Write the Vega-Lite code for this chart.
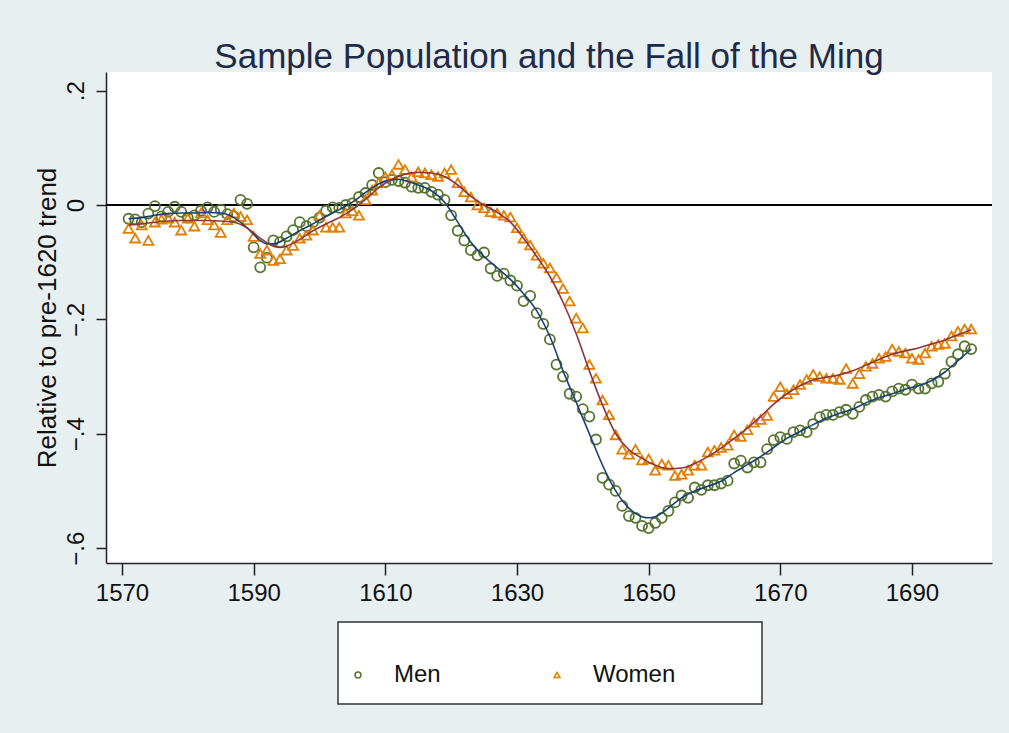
{
"$schema": "https://vega.github.io/schema/vega-lite/v6.json",
"width": 886, "height": 491,
"autosize": "none",
"padding": {"left": 106, "top": 72, "right": 17, "bottom": 170},
"background": "#e8eff1",
"title": {"text": "Sample Population and the Fall of the Ming", "fontSize": 35, "font": "Liberation Sans", "fontWeight": "normal", "color": "#1f2a48", "anchor": "middle", "baseline": "alphabetic", "offset": -31},
"config": {
 "view": {"stroke": null, "fill": "white"},
 "axis": {"labelFont": "Liberation Sans", "titleFont": "Liberation Sans", "labelColor": "#111", "titleColor": "#111", "domainColor": "#222", "tickColor": "#222", "domainWidth": 1.5, "tickWidth": 1.5, "grid": false},
 "legend": {"orient": "none", "legendX": 232, "legendY": 550, "direction": "horizontal", "padding": 17, "strokeColor": "#333", "fillColor": "white", "strokeWidth": 1.5, "symbolSize": 35, "symbolStrokeWidth": 1.5, "symbolOffset": -9, "labelFont": "Liberation Sans", "labelFontSize": 24, "labelColor": "#111", "labelOffset": 24, "columnPadding": 110, "titleFont": "Liberation Sans", "titleFontSize": 14, "titleFontWeight": "normal", "titleColor": "#ffffff", "titlePadding": 10, "titleLimit": 2000, "labelLimit": 400}
},
"datasets": {
"pts": [
{"year":1571,"sex":"Men","v":-0.024},{"year":1572,"sex":"Men","v":-0.025},{"year":1573,"sex":"Men","v":-0.030},{"year":1574,"sex":"Men","v":-0.015},{"year":1575,"sex":"Men","v":-0.002},{"year":1576,"sex":"Men","v":-0.020},{"year":1577,"sex":"Men","v":-0.012},{"year":1578,"sex":"Men","v":-0.003},{"year":1579,"sex":"Men","v":-0.012},{"year":1580,"sex":"Men","v":-0.022},
{"year":1581,"sex":"Men","v":-0.018},{"year":1582,"sex":"Men","v":-0.010},{"year":1583,"sex":"Men","v":-0.004},{"year":1584,"sex":"Men","v":-0.012},{"year":1585,"sex":"Men","v":-0.008},{"year":1586,"sex":"Men","v":-0.016},{"year":1587,"sex":"Men","v":-0.020},{"year":1588,"sex":"Men","v":0.009},{"year":1589,"sex":"Men","v":0.002},{"year":1590,"sex":"Men","v":-0.074},
{"year":1591,"sex":"Men","v":-0.109},{"year":1592,"sex":"Men","v":-0.092},{"year":1593,"sex":"Men","v":-0.062},{"year":1594,"sex":"Men","v":-0.065},{"year":1595,"sex":"Men","v":-0.055},{"year":1596,"sex":"Men","v":-0.044},{"year":1597,"sex":"Men","v":-0.030},{"year":1598,"sex":"Men","v":-0.037},{"year":1599,"sex":"Men","v":-0.030},{"year":1600,"sex":"Men","v":-0.022},
{"year":1601,"sex":"Men","v":-0.010},{"year":1602,"sex":"Men","v":-0.004},{"year":1603,"sex":"Men","v":-0.005},{"year":1604,"sex":"Men","v":0.000},{"year":1605,"sex":"Men","v":0.003},{"year":1606,"sex":"Men","v":0.014},{"year":1607,"sex":"Men","v":0.021},{"year":1608,"sex":"Men","v":0.035},{"year":1609,"sex":"Men","v":0.056},{"year":1610,"sex":"Men","v":0.040},
{"year":1611,"sex":"Men","v":0.044},{"year":1612,"sex":"Men","v":0.042},{"year":1613,"sex":"Men","v":0.039},{"year":1614,"sex":"Men","v":0.032},{"year":1615,"sex":"Men","v":0.030},{"year":1616,"sex":"Men","v":0.030},{"year":1617,"sex":"Men","v":0.023},{"year":1618,"sex":"Men","v":0.018},{"year":1619,"sex":"Men","v":0.009},{"year":1620,"sex":"Men","v":-0.018},
{"year":1621,"sex":"Men","v":-0.045},{"year":1622,"sex":"Men","v":-0.062},{"year":1623,"sex":"Men","v":-0.079},{"year":1624,"sex":"Men","v":-0.088},{"year":1625,"sex":"Men","v":-0.083},{"year":1626,"sex":"Men","v":-0.111},{"year":1627,"sex":"Men","v":-0.124},{"year":1628,"sex":"Men","v":-0.120},{"year":1629,"sex":"Men","v":-0.132},{"year":1630,"sex":"Men","v":-0.141},
{"year":1631,"sex":"Men","v":-0.168},{"year":1632,"sex":"Men","v":-0.159},{"year":1633,"sex":"Men","v":-0.189},{"year":1634,"sex":"Men","v":-0.208},{"year":1635,"sex":"Men","v":-0.235},{"year":1636,"sex":"Men","v":-0.279},{"year":1637,"sex":"Men","v":-0.300},{"year":1638,"sex":"Men","v":-0.330},{"year":1639,"sex":"Men","v":-0.335},{"year":1640,"sex":"Men","v":-0.357},
{"year":1641,"sex":"Men","v":-0.370},{"year":1642,"sex":"Men","v":-0.410},{"year":1643,"sex":"Men","v":-0.477},{"year":1644,"sex":"Men","v":-0.489},{"year":1645,"sex":"Men","v":-0.500},{"year":1646,"sex":"Men","v":-0.526},{"year":1647,"sex":"Men","v":-0.544},{"year":1648,"sex":"Men","v":-0.547},{"year":1649,"sex":"Men","v":-0.561},{"year":1650,"sex":"Men","v":-0.565},
{"year":1651,"sex":"Men","v":-0.556},{"year":1652,"sex":"Men","v":-0.547},{"year":1653,"sex":"Men","v":-0.535},{"year":1654,"sex":"Men","v":-0.520},{"year":1655,"sex":"Men","v":-0.508},{"year":1656,"sex":"Men","v":-0.512},{"year":1657,"sex":"Men","v":-0.494},{"year":1658,"sex":"Men","v":-0.498},{"year":1659,"sex":"Men","v":-0.490},{"year":1660,"sex":"Men","v":-0.490},
{"year":1661,"sex":"Men","v":-0.487},{"year":1662,"sex":"Men","v":-0.482},{"year":1663,"sex":"Men","v":-0.452},{"year":1664,"sex":"Men","v":-0.447},{"year":1665,"sex":"Men","v":-0.459},{"year":1666,"sex":"Men","v":-0.450},{"year":1667,"sex":"Men","v":-0.450},{"year":1668,"sex":"Men","v":-0.427},{"year":1669,"sex":"Men","v":-0.411},{"year":1670,"sex":"Men","v":-0.406},
{"year":1671,"sex":"Men","v":-0.409},{"year":1672,"sex":"Men","v":-0.397},{"year":1673,"sex":"Men","v":-0.394},{"year":1674,"sex":"Men","v":-0.397},{"year":1675,"sex":"Men","v":-0.383},{"year":1676,"sex":"Men","v":-0.371},{"year":1677,"sex":"Men","v":-0.367},{"year":1678,"sex":"Men","v":-0.367},{"year":1679,"sex":"Men","v":-0.362},{"year":1680,"sex":"Men","v":-0.358},
{"year":1681,"sex":"Men","v":-0.365},{"year":1682,"sex":"Men","v":-0.353},{"year":1683,"sex":"Men","v":-0.341},{"year":1684,"sex":"Men","v":-0.335},{"year":1685,"sex":"Men","v":-0.332},{"year":1686,"sex":"Men","v":-0.335},{"year":1687,"sex":"Men","v":-0.326},{"year":1688,"sex":"Men","v":-0.321},{"year":1689,"sex":"Men","v":-0.323},{"year":1690,"sex":"Men","v":-0.314},
{"year":1691,"sex":"Men","v":-0.321},{"year":1692,"sex":"Men","v":-0.321},{"year":1693,"sex":"Men","v":-0.312},{"year":1694,"sex":"Men","v":-0.309},{"year":1695,"sex":"Men","v":-0.295},{"year":1696,"sex":"Men","v":-0.274},{"year":1697,"sex":"Men","v":-0.261},{"year":1698,"sex":"Men","v":-0.247},{"year":1699,"sex":"Men","v":-0.252},
{"year":1571,"sex":"Women","v":-0.041},{"year":1572,"sex":"Women","v":-0.058},{"year":1573,"sex":"Women","v":-0.035},{"year":1574,"sex":"Women","v":-0.062},{"year":1575,"sex":"Women","v":-0.030},{"year":1576,"sex":"Women","v":-0.025},{"year":1577,"sex":"Women","v":-0.023},{"year":1578,"sex":"Women","v":-0.030},{"year":1579,"sex":"Women","v":-0.044},{"year":1580,"sex":"Women","v":-0.023},
{"year":1581,"sex":"Women","v":-0.037},{"year":1582,"sex":"Women","v":-0.014},{"year":1583,"sex":"Women","v":-0.026},{"year":1584,"sex":"Women","v":-0.035},{"year":1585,"sex":"Women","v":-0.048},{"year":1586,"sex":"Women","v":-0.026},{"year":1587,"sex":"Women","v":-0.014},{"year":1588,"sex":"Women","v":-0.020},{"year":1589,"sex":"Women","v":-0.026},{"year":1590,"sex":"Women","v":-0.055},
{"year":1591,"sex":"Women","v":-0.085},{"year":1592,"sex":"Women","v":-0.079},{"year":1593,"sex":"Women","v":-0.097},{"year":1594,"sex":"Women","v":-0.094},{"year":1595,"sex":"Women","v":-0.079},{"year":1596,"sex":"Women","v":-0.071},{"year":1597,"sex":"Women","v":-0.058},{"year":1598,"sex":"Women","v":-0.053},{"year":1599,"sex":"Women","v":-0.044},{"year":1600,"sex":"Women","v":-0.018},
{"year":1601,"sex":"Women","v":-0.039},{"year":1602,"sex":"Women","v":-0.039},{"year":1603,"sex":"Women","v":-0.039},{"year":1604,"sex":"Women","v":-0.014},{"year":1605,"sex":"Women","v":-0.010},{"year":1606,"sex":"Women","v":-0.018},{"year":1607,"sex":"Women","v":0.009},{"year":1608,"sex":"Women","v":0.026},{"year":1609,"sex":"Women","v":0.039},{"year":1610,"sex":"Women","v":0.049},
{"year":1611,"sex":"Women","v":0.053},{"year":1612,"sex":"Women","v":0.071},{"year":1613,"sex":"Women","v":0.062},{"year":1614,"sex":"Women","v":0.049},{"year":1615,"sex":"Women","v":0.058},{"year":1616,"sex":"Women","v":0.056},{"year":1617,"sex":"Women","v":0.053},{"year":1618,"sex":"Women","v":0.050},{"year":1619,"sex":"Women","v":0.056},{"year":1620,"sex":"Women","v":0.062},
{"year":1621,"sex":"Women","v":0.039},{"year":1622,"sex":"Women","v":0.023},{"year":1623,"sex":"Women","v":0.014},{"year":1624,"sex":"Women","v":0.000},{"year":1625,"sex":"Women","v":-0.005},{"year":1626,"sex":"Women","v":-0.012},{"year":1627,"sex":"Women","v":-0.014},{"year":1628,"sex":"Women","v":-0.018},{"year":1629,"sex":"Women","v":-0.021},{"year":1630,"sex":"Women","v":-0.040},
{"year":1631,"sex":"Women","v":-0.058},{"year":1632,"sex":"Women","v":-0.070},{"year":1633,"sex":"Women","v":-0.088},{"year":1634,"sex":"Women","v":-0.102},{"year":1635,"sex":"Women","v":-0.110},{"year":1636,"sex":"Women","v":-0.127},{"year":1637,"sex":"Women","v":-0.146},{"year":1638,"sex":"Women","v":-0.168},{"year":1639,"sex":"Women","v":-0.198},{"year":1640,"sex":"Women","v":-0.215},
{"year":1641,"sex":"Women","v":-0.279},{"year":1642,"sex":"Women","v":-0.303},{"year":1643,"sex":"Women","v":-0.341},{"year":1644,"sex":"Women","v":-0.367},{"year":1645,"sex":"Women","v":-0.402},{"year":1646,"sex":"Women","v":-0.427},{"year":1647,"sex":"Women","v":-0.436},{"year":1648,"sex":"Women","v":-0.427},{"year":1649,"sex":"Women","v":-0.446},{"year":1650,"sex":"Women","v":-0.444},
{"year":1651,"sex":"Women","v":-0.464},{"year":1652,"sex":"Women","v":-0.453},{"year":1653,"sex":"Women","v":-0.455},{"year":1654,"sex":"Women","v":-0.473},{"year":1655,"sex":"Women","v":-0.471},{"year":1656,"sex":"Women","v":-0.464},{"year":1657,"sex":"Women","v":-0.455},{"year":1658,"sex":"Women","v":-0.455},{"year":1659,"sex":"Women","v":-0.432},{"year":1660,"sex":"Women","v":-0.429},
{"year":1661,"sex":"Women","v":-0.424},{"year":1662,"sex":"Women","v":-0.420},{"year":1663,"sex":"Women","v":-0.402},{"year":1664,"sex":"Women","v":-0.405},{"year":1665,"sex":"Women","v":-0.393},{"year":1666,"sex":"Women","v":-0.380},{"year":1667,"sex":"Women","v":-0.375},{"year":1668,"sex":"Women","v":-0.368},{"year":1669,"sex":"Women","v":-0.335},{"year":1670,"sex":"Women","v":-0.318},
{"year":1671,"sex":"Women","v":-0.330},{"year":1672,"sex":"Women","v":-0.323},{"year":1673,"sex":"Women","v":-0.314},{"year":1674,"sex":"Women","v":-0.305},{"year":1675,"sex":"Women","v":-0.296},{"year":1676,"sex":"Women","v":-0.300},{"year":1677,"sex":"Women","v":-0.303},{"year":1678,"sex":"Women","v":-0.303},{"year":1679,"sex":"Women","v":-0.305},{"year":1680,"sex":"Women","v":-0.286},
{"year":1681,"sex":"Women","v":-0.312},{"year":1682,"sex":"Women","v":-0.295},{"year":1683,"sex":"Women","v":-0.282},{"year":1684,"sex":"Women","v":-0.277},{"year":1685,"sex":"Women","v":-0.268},{"year":1686,"sex":"Women","v":-0.265},{"year":1687,"sex":"Women","v":-0.252},{"year":1688,"sex":"Women","v":-0.256},{"year":1689,"sex":"Women","v":-0.259},{"year":1690,"sex":"Women","v":-0.268},
{"year":1691,"sex":"Women","v":-0.270},{"year":1692,"sex":"Women","v":-0.259},{"year":1693,"sex":"Women","v":-0.247},{"year":1694,"sex":"Women","v":-0.244},{"year":1695,"sex":"Women","v":-0.242},{"year":1696,"sex":"Women","v":-0.229},{"year":1697,"sex":"Women","v":-0.221},{"year":1698,"sex":"Women","v":-0.217},{"year":1699,"sex":"Women","v":-0.217}
],
"fit": [
{"year":1571,"sex":"Men","f":-0.024},{"year":1573,"sex":"Men","f":-0.022},{"year":1575,"sex":"Men","f":-0.018},{"year":1577,"sex":"Men","f":-0.015},{"year":1579,"sex":"Men","f":-0.014},{"year":1581,"sex":"Men","f":-0.014},{"year":1583,"sex":"Men","f":-0.013},{"year":1585,"sex":"Men","f":-0.014},{"year":1587,"sex":"Men","f":-0.022},{"year":1589,"sex":"Men","f":-0.040},{"year":1591,"sex":"Men","f":-0.062},{"year":1592,"sex":"Men","f":-0.068},{"year":1593,"sex":"Men","f":-0.068},{"year":1595,"sex":"Men","f":-0.058},{"year":1597,"sex":"Men","f":-0.045},{"year":1599,"sex":"Men","f":-0.033},{"year":1601,"sex":"Men","f":-0.020},{"year":1603,"sex":"Men","f":-0.008},{"year":1605,"sex":"Men","f":0.005},{"year":1607,"sex":"Men","f":0.022},{"year":1609,"sex":"Men","f":0.037},{"year":1611,"sex":"Men","f":0.044},{"year":1612,"sex":"Men","f":0.045},{"year":1613,"sex":"Men","f":0.043},{"year":1615,"sex":"Men","f":0.035},{"year":1617,"sex":"Men","f":0.025},{"year":1619,"sex":"Men","f":0.005},{"year":1621,"sex":"Men","f":-0.030},{"year":1623,"sex":"Men","f":-0.065},{"year":1625,"sex":"Men","f":-0.090},{"year":1627,"sex":"Men","f":-0.110},{"year":1629,"sex":"Men","f":-0.130},{"year":1631,"sex":"Men","f":-0.155},{"year":1633,"sex":"Men","f":-0.185},{"year":1635,"sex":"Men","f":-0.230},{"year":1637,"sex":"Men","f":-0.290},{"year":1639,"sex":"Men","f":-0.345},{"year":1641,"sex":"Men","f":-0.400},{"year":1643,"sex":"Men","f":-0.455},{"year":1645,"sex":"Men","f":-0.500},{"year":1647,"sex":"Men","f":-0.530},{"year":1649,"sex":"Men","f":-0.545},{"year":1650,"sex":"Men","f":-0.547},{"year":1651,"sex":"Men","f":-0.545},{"year":1653,"sex":"Men","f":-0.530},{"year":1655,"sex":"Men","f":-0.512},{"year":1657,"sex":"Men","f":-0.500},{"year":1659,"sex":"Men","f":-0.492},{"year":1661,"sex":"Men","f":-0.483},{"year":1663,"sex":"Men","f":-0.468},{"year":1665,"sex":"Men","f":-0.454},{"year":1667,"sex":"Men","f":-0.440},{"year":1669,"sex":"Men","f":-0.424},{"year":1671,"sex":"Men","f":-0.408},{"year":1673,"sex":"Men","f":-0.396},{"year":1675,"sex":"Men","f":-0.384},{"year":1677,"sex":"Men","f":-0.373},{"year":1679,"sex":"Men","f":-0.364},{"year":1681,"sex":"Men","f":-0.357},{"year":1683,"sex":"Men","f":-0.346},{"year":1685,"sex":"Men","f":-0.337},{"year":1687,"sex":"Men","f":-0.330},{"year":1689,"sex":"Men","f":-0.322},{"year":1691,"sex":"Men","f":-0.316},{"year":1693,"sex":"Men","f":-0.307},{"year":1695,"sex":"Men","f":-0.292},{"year":1697,"sex":"Men","f":-0.272},{"year":1699,"sex":"Men","f":-0.252},
{"year":1571,"sex":"Women","f":-0.035},{"year":1573,"sex":"Women","f":-0.033},{"year":1575,"sex":"Women","f":-0.030},{"year":1577,"sex":"Women","f":-0.028},{"year":1579,"sex":"Women","f":-0.027},{"year":1581,"sex":"Women","f":-0.027},{"year":1583,"sex":"Women","f":-0.027},{"year":1585,"sex":"Women","f":-0.028},{"year":1587,"sex":"Women","f":-0.030},{"year":1589,"sex":"Women","f":-0.040},{"year":1591,"sex":"Women","f":-0.058},{"year":1593,"sex":"Women","f":-0.072},{"year":1594,"sex":"Women","f":-0.074},{"year":1595,"sex":"Women","f":-0.072},{"year":1597,"sex":"Women","f":-0.060},{"year":1599,"sex":"Women","f":-0.045},{"year":1601,"sex":"Women","f":-0.033},{"year":1603,"sex":"Women","f":-0.022},{"year":1605,"sex":"Women","f":-0.008},{"year":1607,"sex":"Women","f":0.010},{"year":1609,"sex":"Women","f":0.030},{"year":1611,"sex":"Women","f":0.045},{"year":1613,"sex":"Women","f":0.054},{"year":1615,"sex":"Women","f":0.057},{"year":1617,"sex":"Women","f":0.056},{"year":1619,"sex":"Women","f":0.050},{"year":1621,"sex":"Women","f":0.035},{"year":1623,"sex":"Women","f":0.015},{"year":1625,"sex":"Women","f":0.000},{"year":1627,"sex":"Women","f":-0.013},{"year":1629,"sex":"Women","f":-0.030},{"year":1631,"sex":"Women","f":-0.058},{"year":1633,"sex":"Women","f":-0.090},{"year":1635,"sex":"Women","f":-0.125},{"year":1637,"sex":"Women","f":-0.170},{"year":1639,"sex":"Women","f":-0.225},{"year":1641,"sex":"Women","f":-0.290},{"year":1643,"sex":"Women","f":-0.350},{"year":1645,"sex":"Women","f":-0.400},{"year":1647,"sex":"Women","f":-0.428},{"year":1649,"sex":"Women","f":-0.443},{"year":1651,"sex":"Women","f":-0.455},{"year":1653,"sex":"Women","f":-0.461},{"year":1655,"sex":"Women","f":-0.460},{"year":1657,"sex":"Women","f":-0.452},{"year":1659,"sex":"Women","f":-0.440},{"year":1661,"sex":"Women","f":-0.425},{"year":1663,"sex":"Women","f":-0.408},{"year":1665,"sex":"Women","f":-0.390},{"year":1667,"sex":"Women","f":-0.370},{"year":1669,"sex":"Women","f":-0.348},{"year":1671,"sex":"Women","f":-0.330},{"year":1673,"sex":"Women","f":-0.316},{"year":1675,"sex":"Women","f":-0.306},{"year":1677,"sex":"Women","f":-0.301},{"year":1679,"sex":"Women","f":-0.297},{"year":1681,"sex":"Women","f":-0.290},{"year":1683,"sex":"Women","f":-0.280},{"year":1685,"sex":"Women","f":-0.270},{"year":1687,"sex":"Women","f":-0.261},{"year":1689,"sex":"Women","f":-0.255},{"year":1691,"sex":"Women","f":-0.250},{"year":1693,"sex":"Women","f":-0.243},{"year":1695,"sex":"Women","f":-0.236},{"year":1697,"sex":"Women","f":-0.227},{"year":1699,"sex":"Women","f":-0.218}
]
},
"encoding": {
 "x": {"field": "year", "type": "quantitative", "scale": {"domain": [1567.57, 1702.16], "nice": false, "zero": false},
   "axis": {"title": null, "values": [1570,1590,1610,1630,1650,1670,1690], "format": "d", "labelFontSize": 24, "tickSize": 12, "labelPadding": 6}}
},
"layer": [
 {"data": {"values": [{"z": 0}]}, "mark": {"type": "rule", "color": "#000", "strokeWidth": 2},
  "encoding": {"y": {"field": "z", "type": "quantitative"}, "x": null}},
 {"data": {"name": "pts"},
  "mark": {"type": "point", "filled": false, "size": 100, "strokeWidth": 1.8, "opacity": 1},
  "encoding": {
   "y": {"field": "v", "type": "quantitative", "scale": {"domain": [-0.626, 0.2326], "nice": false, "zero": false},
     "axis": {"title": "Relative to pre-1620 trend", "titleFontSize": 26, "titleFontWeight": "normal", "titlePadding": 4, "values": [0.2, 0, -0.2, -0.4, -0.6], "labelExpr": "datum.value == 0 ? '0' : replace(format(datum.value, '.1f'), '0.', '.')", "labelFontSize": 24, "labelAngle": -90, "labelAlign": "center", "labelBaseline": "alphabetic", "labelPadding": 13, "tickSize": 10}},
   "color": {"field": "sex", "type": "nominal", "scale": {"domain": ["Men", "Women"], "range": ["#55752f", "#e37e00"]},
     "legend": {"title": "__________________________________________________"}},
   "shape": {"field": "sex", "type": "nominal", "scale": {"domain": ["Men", "Women"], "range": ["circle", "triangle-up"]},
     "legend": {"title": "__________________________________________________"}}
  }},
 {"data": {"name": "fit"},
  "mark": {"type": "line", "strokeWidth": 1.6, "interpolate": "monotone"},
  "encoding": {
   "y": {"field": "f", "type": "quantitative"},
   "stroke": {"field": "sex", "type": "nominal", "scale": {"domain": ["Men", "Women"], "range": ["#1a3f78", "#90353b"]}, "legend": null}
  }}
]
}
